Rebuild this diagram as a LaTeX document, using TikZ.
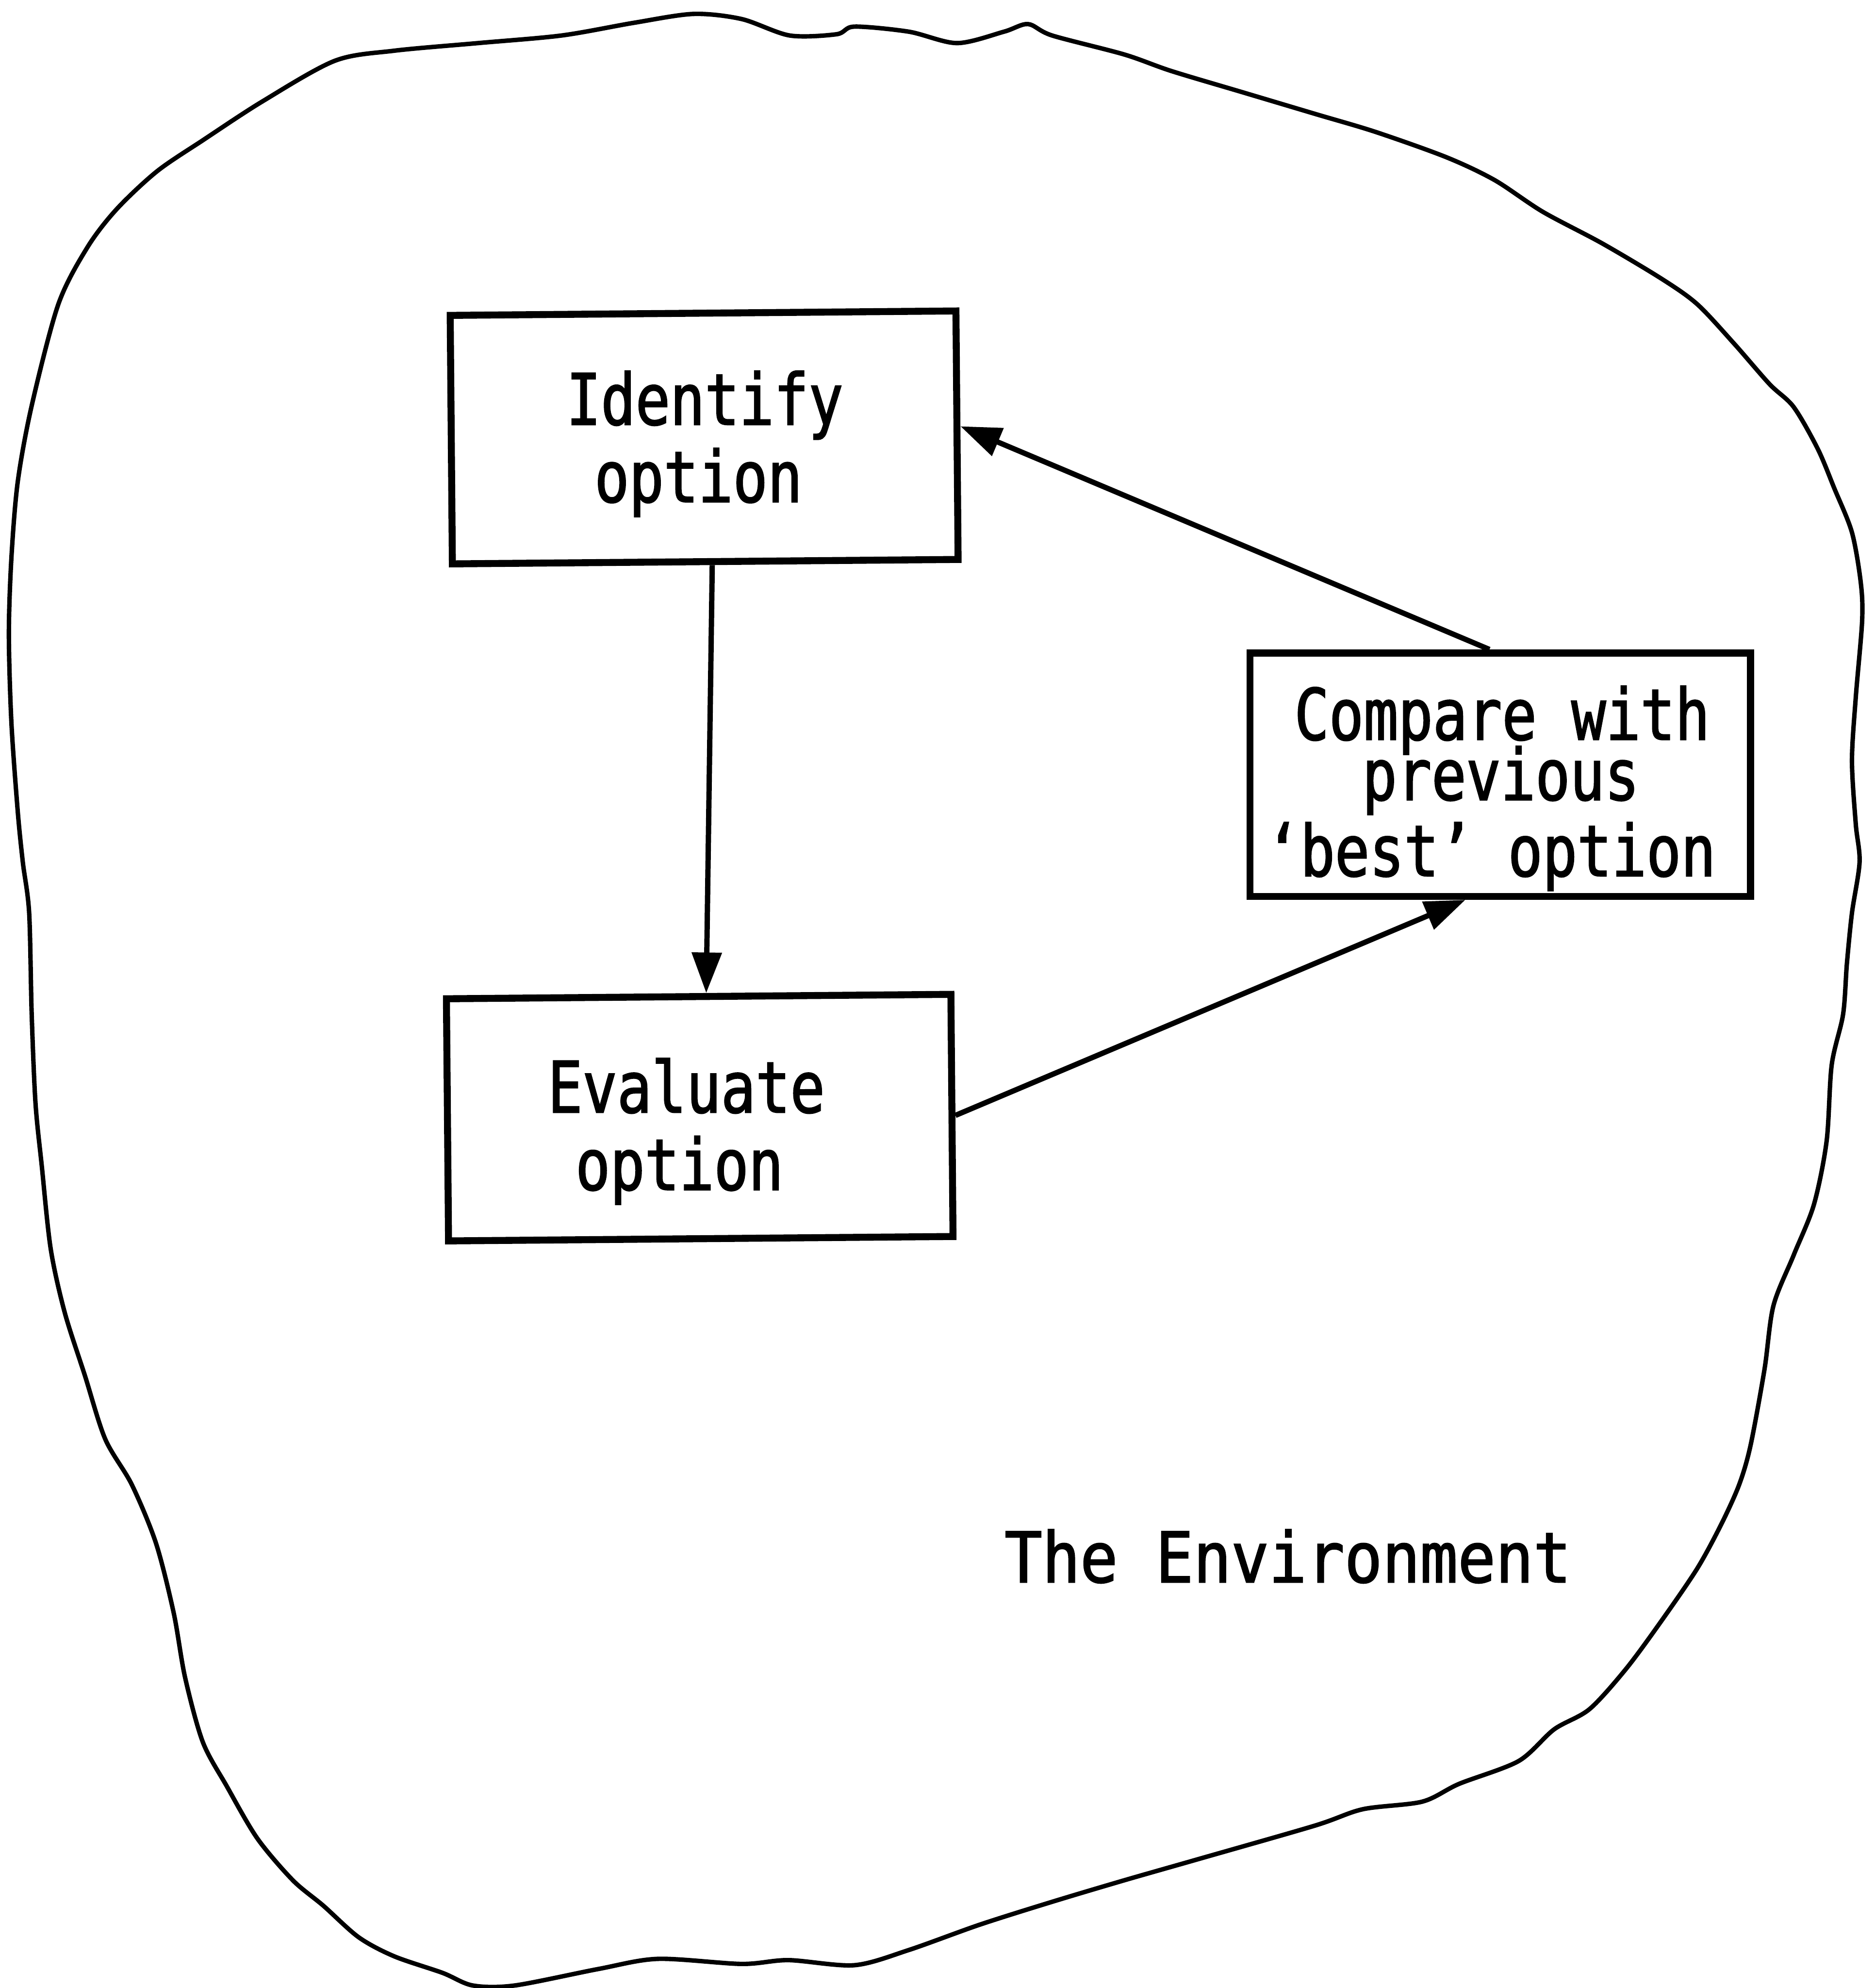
\documentclass[tikz,border=0pt]{standalone}
\usepackage{fontspec}
\newfontfamily\plotfont[FakeStretch=0.81,FakeBold=1.6]{DejaVu Sans Mono}
\newfontfamily\plotwidefont[FakeStretch=0.9,FakeBold=1.6]{DejaVu Sans Mono}
\usetikzlibrary{arrows.meta}
\begin{document}
\begin{tikzpicture}[x=1pt,y=-1pt,
  box/.style={draw,line width=5.5pt,inner sep=0pt},
  txt/.style={inner sep=0pt,anchor=base,font=\plotfont\fontsize{56}{60}\selectfont},
  widetxt/.style={txt,font=\plotwidefont\fontsize{55}{60}\selectfont},
  conn/.style={line width=4.2pt,-{Triangle[length=32pt,width=23pt]}},
  blob/.style={line width=3.5pt,line join=round}]
\useasboundingbox (0,0) rectangle (1479,1568);

% the environment outline
\draw[blob] plot[smooth cycle,tension=0.5] coordinates {
 (264,48) (311,40) (377,34) (443,28) (500,18) (547,11) (585,15) (623,28)
 (660,27) (674,21) (717,25) (755,34) (792,25) (811,19) (830,28) (887,43)
 (924,56) (981,73) (1038,90) (1085,104) (1141,124) (1179,142) (1217,167)
 (1264,192) (1311,220) (1339,240) (1368,271) (1396,303) (1415,321)
 (1434,354) (1447,385) (1461,420) (1468,460) (1469,490) (1464,550)
 (1461,600) (1464,650) (1467,680) (1461,720) (1457,760) (1454,800)
 (1445,840) (1441,900) (1431,950) (1415,990) (1399,1030) (1392,1080)
 (1381,1140) (1372,1171) (1358,1202) (1339,1237) (1311,1278) (1283,1316)
 (1254,1348) (1226,1364) (1198,1389) (1151,1407) (1122,1421) (1075,1427)
 (1037,1440) (943,1467) (887,1483) (830,1500) (773,1518) (717,1538)
 (674,1550) (622,1546) (585,1549) (519,1545) (472,1553) (406,1566)
 (373,1566) (349,1556) (311,1543) (283,1528) (255,1503) (231,1483)
 (203,1450) (179,1409) (160,1374) (146,1323) (137,1272) (123,1217)
 (104,1171) (83,1135) (67,1085) (51,1035) (40,985) (33,920) (28,870)
 (25,800) (23,720) (18,680) (14,640) (9,570) (7,500) (9,440) (14,380)
 (25,320) (46,240) (69,195) (92,165) (124,135) (161,110) (207,80)};

% process boxes
\node[box,minimum width=399pt,minimum height=196pt,rotate=0.5] (ident) at (555.5,345) {};
\node[box,minimum width=398pt,minimum height=191pt,rotate=0.5] (eval) at (552,881.5) {};
\node[box,minimum width=395pt,minimum height=192pt] (cmp) at (1183.5,611) {};

% box texts
\node[txt] (ident-a) at (556,335) {Identify};
\node[txt] (ident-b) at (551,396) {option};
\node[txt] (eval-a) at (541.5,877.5) {Evaluate};
\node[txt] (eval-b) at (536,938.5) {option};
\node[txt] (cmp-a) at (1185,583.5) {Compare with};
\node[txt] (cmp-b) at (1184,631) {previous};
\node[txt] (cmp-c) at (1176,691) {‘best’ option};

\node[widetxt] (env) at (1016,1248) {The Environment};

% connectors
\draw[conn] ([xshift=5.5pt]ident.south) -- ([xshift=6pt]eval.north);
\draw[conn] ([xshift=-8.5pt]cmp.north) -- ([yshift=7pt]ident.east);
\draw[conn] (eval.east) -- ([xshift=-27.5pt]cmp.south);
\end{tikzpicture}
\end{document}
